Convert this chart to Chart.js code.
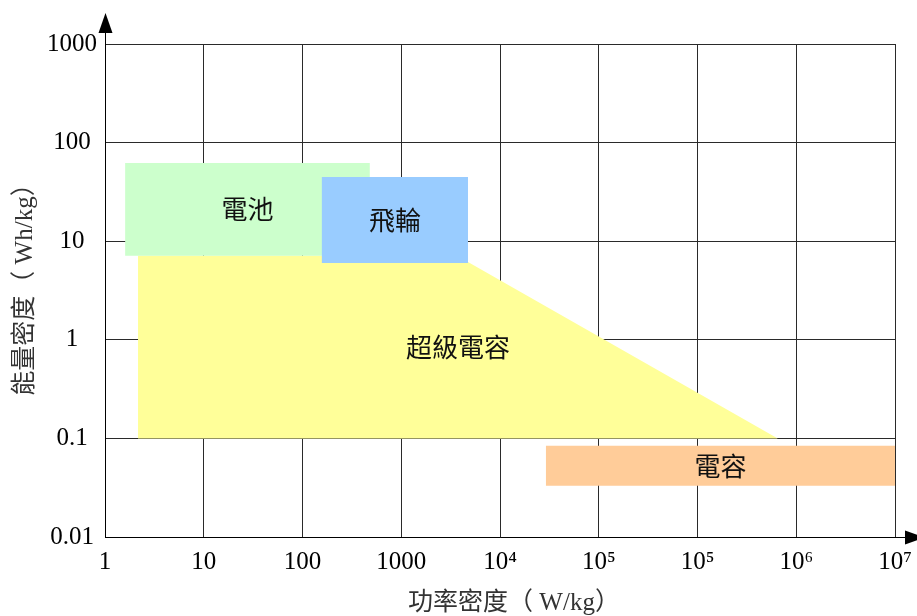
<!DOCTYPE html>
<html>
<head>
<meta charset="utf-8">
<script src="https://cdn.jsdelivr.net/npm/chart.js@4"></script>
<style>
  html, body { margin: 0; padding: 0; background: #fff; }
  canvas { display: block; }
</style>
</head>
<body>
<canvas id="ragone" width="917" height="616"></canvas>
<script>
// Ragone plot: energy density (Wh/kg) vs power density (W/kg), log-log.
const regionNames = ['電池', '飛輪', '超級電容', '電容'];

// Region outlines as (power, energy) vertices
const batteryPower = [1.6, 480, 480, 1.6];
const batteryEnergy = [62, 62, 7.1, 7.1];

const flywheelPower = [157, 4740, 4740, 157];
const flywheelEnergy = [44.8, 44.8, 6.0, 6.0];

const supercapPower = [2.16, 4500, 4740, 6.5e6, 2.16];
const supercapEnergy = [7.1, 7.1, 6.15, 0.1, 0.1];

const capacitorPower = [29200, 1e8, 1e8, 29200];
const capacitorEnergy = [0.084, 0.084, 0.033, 0.033];

// Axis ticks (one per decade)
const xTickValues = [1, 10, 100, 1e3, 1e4, 1e5, 1e6, 1e7, 1e8];
const xTickLabels = ['1', '10', '100', '1000', '10⁴', '10⁵', '10⁵', '10⁶', '10⁷'];
const yTickValues = [0.01, 0.1, 1, 10, 100, 1000];
const yTickLabels = ['0.01', '0.1', '1', '10', '100', '1000'];

const xTitle = '功率密度（ W/kg）';
const yTitle = '能量密度（ Wh/kg）';

const SERIF = "'Liberation Serif', 'Times New Roman', 'Noto Sans CJK TC', serif";
const CJK = "'Noto Sans CJK TC', 'Noto Sans CJK SC', sans-serif";

function region(name, xs, ys, color) {
  return {
    label: name,
    data: xs.map((x, i) => ({ x: x, y: ys[i] })),
    backgroundColor: color,
    borderColor: 'rgba(0,0,0,0)',
    borderWidth: 0,
    pointRadius: 0,
    pointHoverRadius: 0,
    fill: 'shape',
    tension: 0
  };
}

// Drawn back-to-front: the first dataset ends up on top.
const datasets = [
  region(regionNames[3], capacitorPower, capacitorEnergy, '#FFCC99'),
  region(regionNames[1], flywheelPower, flywheelEnergy, '#99CCFF'),
  region(regionNames[0], batteryPower, batteryEnergy, '#CCFFCC'),
  region(regionNames[2], supercapPower, supercapEnergy, '#FFFF99')
];

const decorPlugin = {
  id: 'decor',
  afterDatasetsDraw(chart) {
    const ctx = chart.ctx;
    const xs = chart.scales.x, ys = chart.scales.y;
    ctx.save();
    ctx.fillStyle = '#111';
    ctx.font = '26px ' + CJK;
    ctx.textAlign = 'center';
    ctx.textBaseline = 'middle';
    chart.data.datasets.forEach(ds => {
      const px = ds.data.map(p => xs.getPixelForValue(p.x));
      const py = ds.data.map(p => ys.getPixelForValue(p.y));
      const cx = (Math.min(...px) + Math.max(...px)) / 2;
      const cy = (Math.min(...py) + Math.max(...py)) / 2;
      ctx.fillText(ds.label, cx, cy);
    });
    ctx.restore();
  },
  afterDraw(chart) {
    const ctx = chart.ctx;
    const a = chart.chartArea;
    const ax = Math.round(a.left) + 0.5;
    const ay = Math.round(a.bottom) + 0.5;
    ctx.save();
    ctx.strokeStyle = '#000';
    ctx.fillStyle = '#000';
    ctx.lineWidth = 1;
    // axis extensions up to the arrowheads
    ctx.beginPath();
    ctx.moveTo(ax, a.top);
    ctx.lineTo(ax, a.top - 12);
    ctx.moveTo(a.right, ay);
    ctx.lineTo(a.right + 12, ay);
    ctx.stroke();
    // y arrowhead
    ctx.beginPath();
    ctx.moveTo(ax - 7, a.top - 11);
    ctx.lineTo(ax + 7, a.top - 11);
    ctx.lineTo(ax, a.top - 31);
    ctx.closePath();
    ctx.fill();
    // x arrowhead
    ctx.beginPath();
    ctx.moveTo(a.right + 10, ay - 7);
    ctx.lineTo(a.right + 10, ay + 7);
    ctx.lineTo(a.right + 30, ay);
    ctx.closePath();
    ctx.fill();

    // axis titles
    ctx.fillStyle = '#333';
    ctx.font = '25px ' + SERIF;
    ctx.textAlign = 'center';
    ctx.textBaseline = 'middle';
    ctx.fillText(xTitle, (a.left + a.right) / 2 + 14, 603);
    ctx.translate(25, (a.top + a.bottom) / 2 - 7);
    ctx.rotate(-Math.PI / 2);
    ctx.fillText(yTitle, 0, 0);
    ctx.restore();
  }
};

new Chart(document.getElementById('ragone'), {
  type: 'line',
  data: { datasets: datasets },
  options: {
    responsive: false,
    animation: false,
    devicePixelRatio: 1,
    layout: { padding: { top: 44, right: 22, left: 0, bottom: 0 } },
    plugins: {
      legend: { display: false },
      tooltip: { enabled: false },
      filler: { propagate: false }
    },
    elements: { line: { borderWidth: 0 } },
    scales: {
      x: {
        type: 'logarithmic',
        min: 1,
        max: 1e8,
        afterBuildTicks: axis => { axis.ticks = xTickValues.map(v => ({ value: v })); },
        afterFit: axis => {
          axis.height = 79;
          axis.paddingLeft = 0;
          axis.paddingRight = 0;
        },
        grid: { color: '#2a2a2a', lineWidth: 1, drawTicks: false },
        border: { color: '#000', width: 1 },
        ticks: {
          autoSkip: false,
          maxRotation: 0,
          padding: 10,
          color: '#000',
          font: { family: SERIF, size: 25 },
          callback: (value, index) => xTickLabels[index]
        }
      },
      y: {
        type: 'logarithmic',
        min: 0.01,
        max: 1000,
        afterBuildTicks: axis => { axis.ticks = yTickValues.map(v => ({ value: v })); },
        afterFit: axis => {
          axis.width = 105;
          axis.paddingTop = 0;
          axis.paddingBottom = 0;
        },
        grid: { color: '#2a2a2a', lineWidth: 1, drawTicks: false },
        border: { color: '#000', width: 1 },
        ticks: {
          autoSkip: false,
          padding: 8,
          crossAlign: 'center',
          color: '#000',
          font: { family: SERIF, size: 25 },
          callback: (value, index) => yTickLabels[index]
        }
      }
    }
  },
  plugins: [decorPlugin]
});
</script>
</body>
</html>
